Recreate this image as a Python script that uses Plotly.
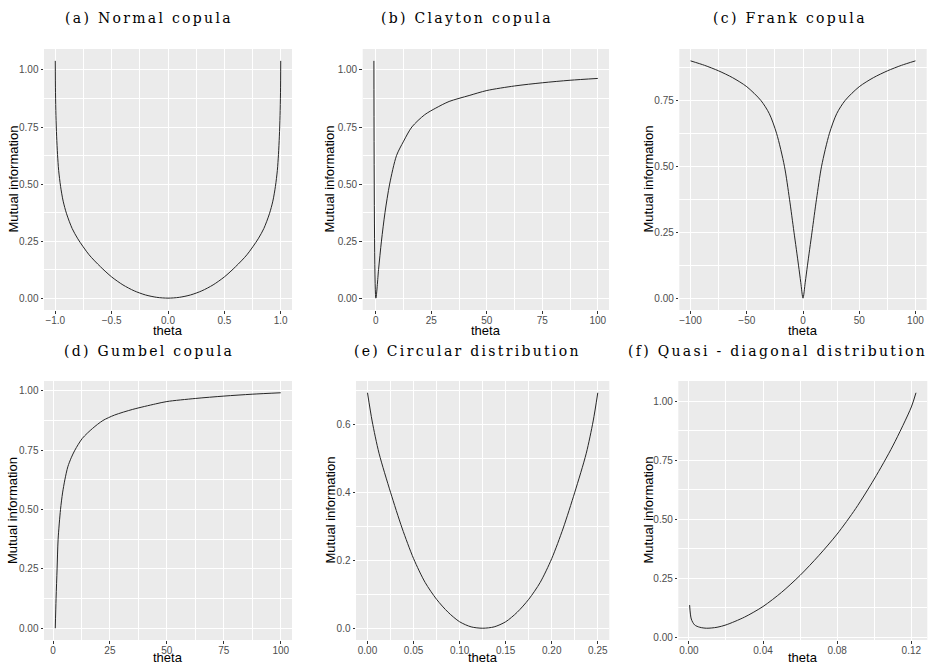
import plotly.graph_objects as go

# ---------------- data ----------------
# (a) Normal copula
normal_theta = [-1.0, -0.998, -0.994, -0.988, -0.98, -0.97, -0.953, -0.93, -0.9, -0.85,
                -0.8, -0.7, -0.6, -0.5, -0.4, -0.3, -0.2, -0.1, 0.0,
                0.1, 0.2, 0.3, 0.4, 0.5, 0.6, 0.7, 0.8, 0.85, 0.9, 0.93, 0.953, 0.97,
                0.98, 0.988, 0.994, 0.998, 1.0]
normal_mi = [1.04, 0.9, 0.8, 0.71, 0.63, 0.56, 0.49, 0.425, 0.37, 0.305,
             0.26, 0.19, 0.138, 0.093, 0.058, 0.032, 0.014, 0.0035, 0.0,
             0.0035, 0.014, 0.032, 0.058, 0.093, 0.138, 0.19, 0.26, 0.305, 0.37, 0.425,
             0.49, 0.56, 0.63, 0.71, 0.8, 0.9, 1.04]

# (b) Clayton copula
clayton_theta = [-0.9, 0.0, 1.2, 2.5, 4.1, 6.2, 9.3, 12.5, 16.2, 22, 27, 33, 42, 50,
                 62.5, 75, 87.5, 100]
clayton_mi = [1.04, 0.0, 0.125, 0.25, 0.375, 0.5, 0.625, 0.688, 0.75, 0.804, 0.833, 0.862,
              0.888, 0.91, 0.93, 0.944, 0.955, 0.963]

# (c) Frank copula
frank_theta = [-100, -87.5, -75, -62.5, -50, -37.5, -30, -23.5, -16.5, -12, -8, -4, -2, 0,
               2, 4, 8, 12, 16.5, 23.5, 30, 37.5, 50, 62.5, 75, 87.5, 100]
frank_mi = [0.90, 0.883, 0.862, 0.836, 0.802, 0.75, 0.70, 0.625, 0.5, 0.375, 0.25, 0.125,
            0.06, 0.0, 0.06, 0.125, 0.25, 0.375, 0.5, 0.625, 0.70, 0.75, 0.802, 0.836,
            0.862, 0.883, 0.90]

# (d) Gumbel copula
gumbel_theta = [1, 1.35, 1.8, 2.25, 3.3, 4.2, 5.2, 6.5, 8, 9.6, 12.9, 17.4, 21.9, 27, 35,
                45, 50, 62.5, 75, 87.5, 100]
gumbel_mi = [0.0, 0.125, 0.25, 0.375, 0.5, 0.57, 0.625, 0.68, 0.718, 0.75, 0.80, 0.842,
             0.875, 0.898, 0.922, 0.945, 0.955, 0.968, 0.978, 0.986, 0.992]

# (e) Circular distribution
circular_theta = [0.0, 0.005, 0.0125, 0.025, 0.0375, 0.05, 0.0625, 0.075, 0.0875, 0.1,
                  0.1125, 0.125, 0.1375, 0.15, 0.1625, 0.175, 0.1875, 0.2, 0.2125, 0.225,
                  0.2375, 0.245, 0.25]
circular_mi = [0.693, 0.61, 0.515, 0.4, 0.295, 0.205, 0.135, 0.085, 0.047, 0.019, 0.004,
               0.0, 0.004, 0.019, 0.047, 0.085, 0.135, 0.205, 0.295, 0.4, 0.515, 0.61, 0.693]

# (f) Quasi-diagonal distribution
quasi_theta = [0.0004, 0.0013, 0.0031, 0.0059, 0.0096, 0.0152, 0.02, 0.03, 0.04, 0.05,
               0.06, 0.07, 0.08, 0.09, 0.10, 0.11, 0.12, 0.1225]
quasi_mi = [0.136, 0.077, 0.052, 0.042, 0.038, 0.042, 0.052, 0.085, 0.13, 0.19, 0.262,
            0.345, 0.437, 0.545, 0.67, 0.81, 0.975, 1.035]

panel_titles = ["(a) Normal copula", "(b) Clayton copula", "(c) Frank copula",
                "(d) Gumbel copula", "(e) Circular distribution",
                "(f) Quasi - diagonal distribution"]
x_title = "theta"
y_title = "Mutual information"

# ---------------- layout settings ----------------
W, H = 935, 666
# plot-area pixel boxes (left, right, top, bottom)
boxes = [(44, 292, 49, 310), (362.7, 609, 49, 310), (679.3, 926.7, 49, 310),
         (44, 292, 381, 640), (356, 609.3, 381, 640), (678.3, 927.3, 381, 640)]
title_pos = [(149, 18), (467, 18), (789.5, 18), (149, 351), (467, 351), (777, 351)]
ytitle_x = [13, 329, 648, 12.5, 330, 648]
xtitle_bottom = [339, 339, 339, 666, 666, 666]   # bottom edge of the "theta" text box

series = [(normal_theta, normal_mi), (clayton_theta, clayton_mi), (frank_theta, frank_mi),
          (gumbel_theta, gumbel_mi), (circular_theta, circular_mi), (quasi_theta, quasi_mi)]

# x ticks: (dtick, minor dtick, format); y ticks likewise
x_ticks = [(0.5, 0.25, ".1f"), (25, 12.5, "d"), (50, 25, "d"),
           (25, 12.5, "d"), (0.05, 0.025, ".2f"), (0.04, 0.02, ".2f")]
y_ticks = [(0.25, 0.125, ".2f"), (0.25, 0.125, ".2f"), (0.25, 0.125, ".2f"),
           (0.25, 0.125, ".2f"), (0.2, 0.1, ".1f"), (0.25, 0.125, ".2f")]

fig = go.Figure()

tick_font = dict(family="Liberation Sans, Arial, sans-serif", size=10, color="#4D4D4D")
title_font = dict(family="Liberation Sans, Arial, sans-serif", size=13, color="black")


def expand(vals, frac=0.05):
    lo, hi = min(vals), max(vals)
    pad = (hi - lo) * frac
    return [lo - pad, hi + pad]


for i, ((xs, ys), box) in enumerate(zip(series, boxes)):
    n = i + 1
    xa = "x" if n == 1 else f"x{n}"
    ya = "y" if n == 1 else f"y{n}"
    fig.add_trace(go.Scatter(x=xs, y=ys, mode="lines", xaxis=xa, yaxis=ya,
                             line=dict(color="#262626", width=1, shape="spline",
                                       smoothing=0.8),
                             showlegend=False, hoverinfo="skip"))
    l, r, t, b = box
    xd, xm, xf = x_ticks[i]
    yd, ym, yf = y_ticks[i]
    xaxis = dict(domain=[l / W, r / W], anchor=ya, range=expand(xs),
                 tick0=0, dtick=xd, tickformat=xf,
                 showgrid=True, gridcolor="white", gridwidth=1.2,
                 minor=dict(tick0=0, dtick=xm, showgrid=True, gridcolor="white", gridwidth=0.6),
                 zeroline=False, showline=False,
                 ticks="outside", ticklen=2.5, tickwidth=1, tickcolor="#333333",
                 tickfont=tick_font, automargin=False, ticklabelstandoff=-2)
    yaxis = dict(domain=[1 - b / H, 1 - t / H], anchor=xa, range=expand(ys),
                 tick0=0, dtick=yd, tickformat=yf,
                 showgrid=True, gridcolor="white", gridwidth=1.2,
                 minor=dict(tick0=0, dtick=ym, showgrid=True, gridcolor="white", gridwidth=0.6),
                 zeroline=False, showline=False,
                 ticks="outside", ticklen=2.5, tickwidth=1, tickcolor="#333333",
                 tickfont=tick_font, automargin=False)
    fig.update_layout(**{("xaxis" if n == 1 else f"xaxis{n}"): xaxis,
                         ("yaxis" if n == 1 else f"yaxis{n}"): yaxis})
    # gray panel background
    fig.add_shape(type="rect", xref=f"{xa} domain", yref=f"{ya} domain",
                  x0=0, x1=1, y0=0, y1=1, fillcolor="#EBEBEB", line=dict(width=0),
                  layer="below")
    # axis titles
    fig.add_annotation(text=x_title, xref="paper", yref="paper",
                       x=(l + r) / 2 / W, y=1 - xtitle_bottom[i] / H,
                       xanchor="center", yanchor="bottom", showarrow=False,
                       borderpad=0, font=title_font)
    fig.add_annotation(text=y_title, xref="paper", yref="paper",
                       x=ytitle_x[i] / W, y=1 - (t + b) / 2 / H, textangle=-90,
                       xanchor="center", yanchor="middle", showarrow=False,
                       borderpad=0, font=title_font)
    # panel title
    tx, ty = title_pos[i]
    fig.add_annotation(text='<span style="letter-spacing:2.3px">' + panel_titles[i] + "</span>",
                       xref="paper", yref="paper",
                       x=tx / W, y=1 - ty / H, xanchor="center", yanchor="middle",
                       showarrow=False, borderpad=0,
                       font=dict(family="DejaVu Serif, serif", size=14, color="black"))

fig.update_layout(width=W, height=H, margin=dict(l=0, r=0, t=0, b=0),
                  paper_bgcolor="white", plot_bgcolor="rgba(0,0,0,0)",
                  template="none", showlegend=False)

fig.write_html("out.html")
